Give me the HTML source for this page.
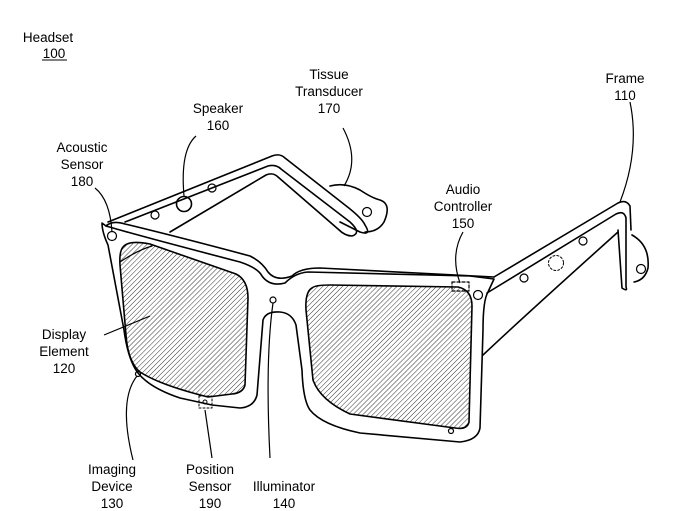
<!DOCTYPE html>
<html><head><meta charset="utf-8"><style>
html,body{margin:0;padding:0;background:#fff;}
svg{display:block;}
text{font-family:"Liberation Sans",Arial,sans-serif;font-size:13.5px;fill:#000;}
</style></head><body>
<svg width="682" height="511" viewBox="0 0 682 511" xmlns="http://www.w3.org/2000/svg">
<defs>
<pattern id="h" width="3.5" height="3.5" patternUnits="userSpaceOnUse" patternTransform="rotate(45)">
<line x1="0" y1="0" x2="0" y2="3.5" stroke="#000" stroke-width="0.8"/>
</pattern>
</defs>
<g fill="none" stroke="#000" stroke-width="1.6" stroke-linejoin="round" stroke-linecap="round">
<path d="M108,222 L272,156 Q280,153 285,158 L345,205 Q362,218 365,225 Q372,236 360,232 L340,222"/>
<path d="M125,222 L268,166 Q276,164 281,169 L350,222 Q362,233 352,236 Q345,236 338,229 L278,177 Q273,172 266,175 L170,232"/>
<path d="M330,186 Q345,182 360,190 Q372,198 380,200 Q392,204 384,222 Q378,232 365,232"/>
<path d="M494,277 L618,203 Q626,199 630,206 L631,230"/>
<path d="M487,293 L616,214 Q624,210 626,218 L626,287 Q628,292 622,288 L618,230"/>
<path d="M483,355 Q520,320 618,232"/>
<path d="M632,235 Q650,245 648,268 Q645,280 634,282"/>
<path d="M102,223 L106,226 Q140,236 240,262 Q258,268 262,276 Q270,287 285,283 Q295,273 308,272 L470,276 L494,279 L488,292 Q483,300 483,330 L480,428 Q478,440 460,442 L360,433 Q322,425 310,410 Q303,400 302,370 L296,325 Q292,313 280,312 Q266,311 263,320 L257,395 Q254,407 240,408 L212,405 L180,398 Q150,388 138,373 Q128,360 124,330 L108,245 Q102,232 102,223 Z"/>
<path d="M106,226 Q112,220 125,224 Q175,236 250,256 Q262,262 268,272 Q276,282 292,276 Q300,268 320,268 L494,277"/>
<path fill="url(#h)" d="M124,246 Q130,240 150,244 L236,274 Q248,280 248,298 L245,385 Q243,393 232,394 L208,397 Q160,385 140,372 Q128,362 126,335 L120,265 Q119,250 124,246 Z"/>
<path d="M120,262 Q138,250 152,246" stroke-width="1.2"/>
<path fill="url(#h)" d="M312,288 Q315,285 330,285 L458,287 Q472,290 472,306 L469,422 Q467,430 455,428 L350,414 Q320,400 313,380 L306,310 Q305,292 312,288 Z"/>
<circle cx="184" cy="204" r="7.5"/>
<circle cx="556" cy="263" r="7.5" stroke-dasharray="2,2" stroke-width="1"/>
<rect x="452" y="282" width="17" height="9" stroke-dasharray="3,2" stroke-width="1.2"/>
<rect x="199" y="396" width="13" height="12" stroke-dasharray="2,2" stroke-width="1"/>
<circle cx="205" cy="402" r="2" stroke-width="1"/>
<circle cx="273" cy="300" r="3" stroke-width="1.2"/>
<circle cx="138" cy="374" r="2.5" stroke-width="1.2"/>
<circle cx="451" cy="431" r="2.5" stroke-width="1.2"/>
</g>
<g fill="none" stroke="#000" stroke-width="1.2">
<circle cx="112" cy="236" r="4.5"/><circle cx="155" cy="215" r="4"/><circle cx="212" cy="188" r="4"/>
<circle cx="367" cy="212" r="4.5"/><circle cx="478" cy="295" r="4.5"/><circle cx="524" cy="278" r="4"/>
<circle cx="583" cy="241" r="4"/><circle cx="641" cy="269" r="4.5"/>
<path d="M95,188 Q110,200 112,232"/>
<path d="M196,136 Q180,150 184,196"/>
<path d="M343,128 Q360,160 344,186"/>
<path d="M630,102 Q640,150 620,202"/>
<path d="M463,232 Q450,255 460,283"/>
<path d="M104,335 L150,316"/>
<path d="M133,460 Q118,400 137,376"/>
<path d="M212,458 L205,410"/>
<path d="M270,458 Q265,360 273,303"/>
</g>
<g text-anchor="middle">
<text x="48" y="42">Headset</text>
<text x="54" y="58">100</text>
<line x1="42" y1="60" x2="67" y2="60" stroke="#000" stroke-width="1"/>
<text x="218" y="113">Speaker</text><text x="218" y="130">160</text>
<text x="329" y="79">Tissue</text><text x="329" y="96">Transducer</text><text x="329" y="113">170</text>
<text x="625" y="83">Frame</text><text x="625" y="100">110</text>
<text x="82" y="152">Acoustic</text><text x="82" y="169">Sensor</text><text x="82" y="186">180</text>
<text x="463" y="194">Audio</text><text x="463" y="211">Controller</text><text x="463" y="228">150</text>
<text x="64" y="339">Display</text><text x="64" y="356">Element</text><text x="64" y="373">120</text>
<text x="112" y="474">Imaging</text><text x="112" y="491">Device</text><text x="112" y="508">130</text>
<text x="210" y="474">Position</text><text x="210" y="491">Sensor</text><text x="210" y="508">190</text>
<text x="284" y="491">Illuminator</text><text x="284" y="508">140</text>
</g>
</svg>
</body></html>
